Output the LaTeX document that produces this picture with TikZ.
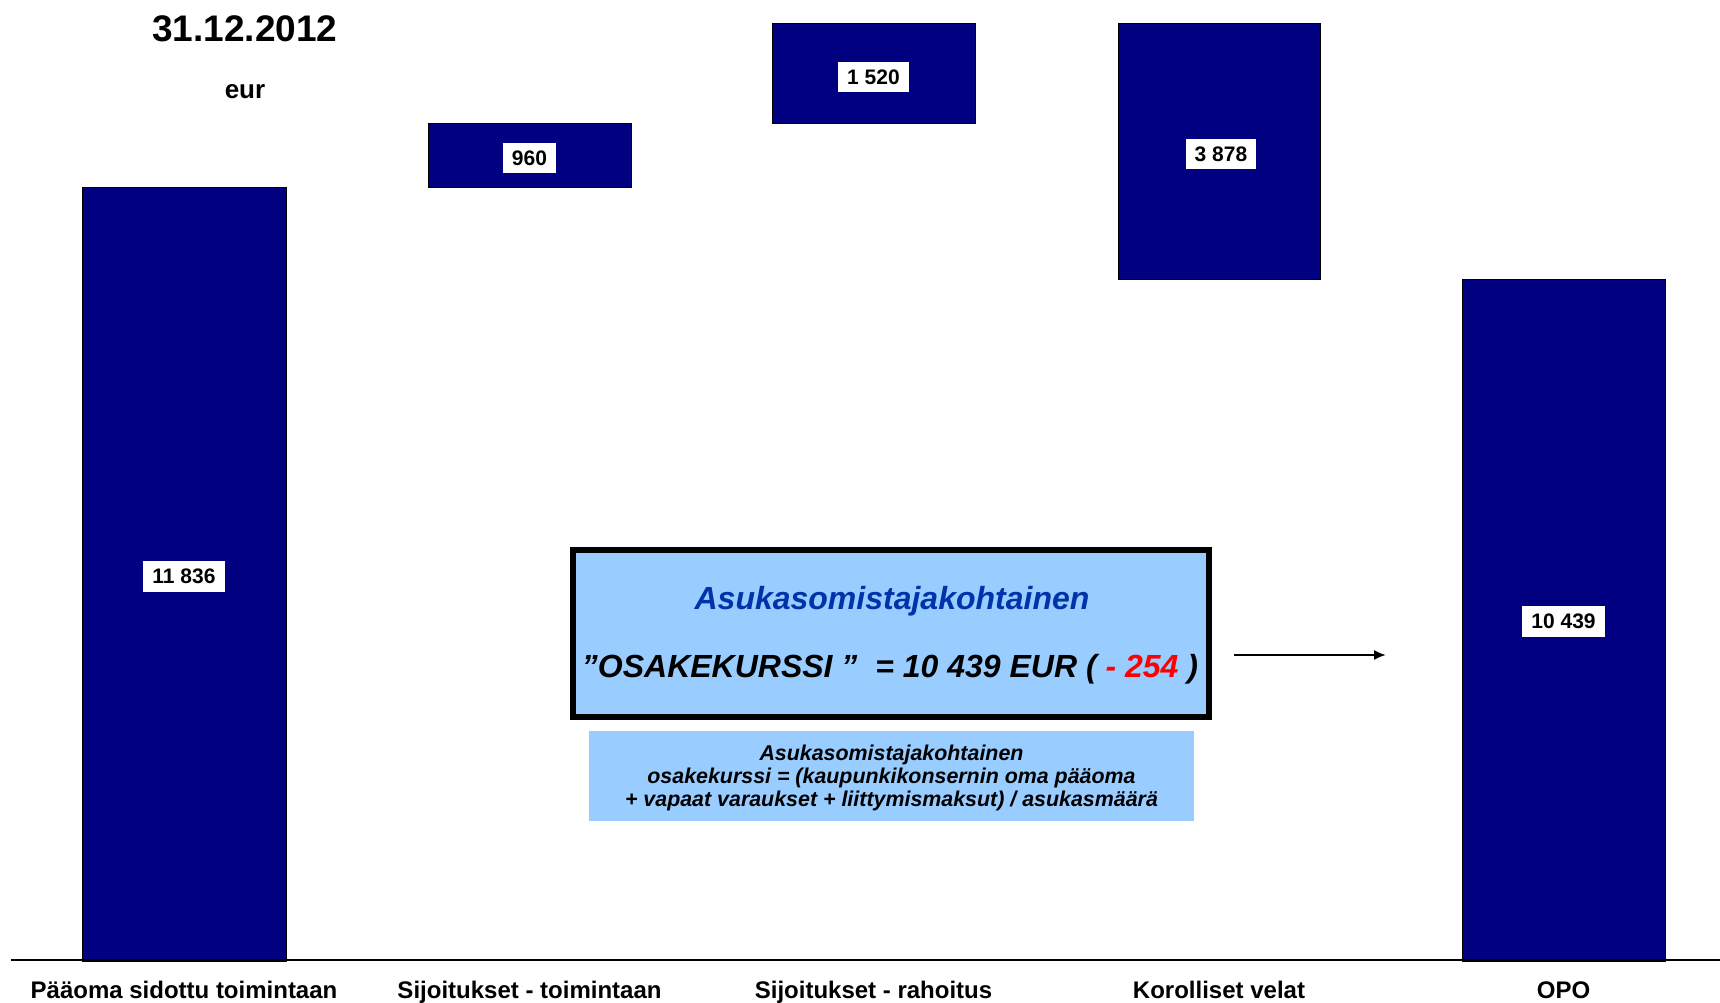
\documentclass[tikz,border=0pt]{standalone}
\usepackage{fontspec}
\setmainfont{Liberation Sans}
\usetikzlibrary{arrows.meta}
\definecolor{navy}{RGB}{0,0,128}
\definecolor{lightblue}{RGB}{153,204,255}
\definecolor{titleblue}{RGB}{0,51,170}
\definecolor{minusred}{RGB}{255,0,0}
\begin{document}
\begin{tikzpicture}[x=1pt,y=-1pt,
  bar/.style={draw=black, line width=1pt, fill=navy, inner sep=0pt},
  val/.style={fill=white, font=\bfseries\fontsize{21}{21}\selectfont, inner xsep=9pt, inner ysep=8pt},
  axislabel/.style={font=\bfseries\fontsize{24}{24}\selectfont, anchor=base},
  bigtxt/.style={font=\bfseries\itshape\fontsize{32}{32}\selectfont, anchor=base},
  smalltxt/.style={font=\bfseries\itshape\fontsize{21.4}{23}\selectfont, anchor=base},
]
\useasboundingbox[fill=white] (0,0) rectangle (1720,1003);

% title
\node[font=\bfseries\fontsize{37}{37}\selectfont, anchor=base] (title) at (245,41.5) {31.12.2012};
\node[font=\bfseries\fontsize{26}{26}\selectfont, anchor=base] (unit) at (245,99) {eur};

% bars
\node[bar, minimum width=204pt, minimum height=773pt] (b1) at (184,574.5) {};
\node[bar, minimum width=203pt, minimum height=64pt]  (b2) at (529.5,156) {};
\node[bar, minimum width=203pt, minimum height=100pt] (b3) at (873.5,74) {};
\node[bar, minimum width=202pt, minimum height=255pt] (b4) at (1219,151.5) {};
\node[bar, minimum width=203pt, minimum height=682pt] (b5) at (1563.5,620) {};

% values
\node[val] (v1) at ([yshift=-2pt]b1.center) {11 836};
\node[val] (v2) at ([yshift=-2pt]b2.center) {960};
\node[val] (v3) at ([yshift=-3pt]b3.center) {1 520};
\node[val] (v4) at ([xshift=2pt,yshift=-2.5pt]b4.center) {3 878};
\node[val] (v5) at ([yshift=-1.5pt]b5.center) {10 439};

% axis
\coordinate (ax1) at (11,960);
\coordinate (ax2) at (1720,960);
\draw[line width=2pt] (ax1) -- (ax2);

% axis labels
\node[axislabel] (l1) at (184,998) {Pääoma sidottu toimintaan};
\node[axislabel] (l2) at (529.5,998) {Sijoitukset - toimintaan};
\node[axislabel] (l3) at (873.5,998) {Sijoitukset - rahoitus};
\node[axislabel] (l4) at (1219,998) {Korolliset velat};
\node[axislabel] (l5) at (1563.5,998) {OPO};

% main box
\node[draw=black, line width=6pt, fill=lightblue, minimum width=636pt, minimum height=167pt, inner sep=0pt] (main) at (891,633.5) {};
\node[bigtxt, text=titleblue] (m1) at (892,609.5) {Asukasomistajakohtainen};
\node[bigtxt] (m2) at (890,677) {”OSAKEKURSSI~”\ \ = 10 439 EUR ( \textcolor{minusred}{- 254} )};

% sub box
\node[fill=lightblue, minimum width=605pt, minimum height=90pt, inner sep=0pt] (sub) at (891.5,776) {};
\node[smalltxt] (s1) at (891.5,760) {Asukasomistajakohtainen};
\node[smalltxt] (s2) at (891.5,783) {osakekurssi = (kaupunkikonsernin oma pääoma};
\node[smalltxt] (s3) at (891.5,806) {+ vapaat varaukset + liittymismaksut) / asukasmäärä};

% arrow
\coordinate (a1) at (1234,655);
\coordinate (a2) at (1386,655);
\draw[line width=2pt, -{Latex[length=12pt,width=10pt]}] (a1) -- (a2);
\end{tikzpicture}
\end{document}
